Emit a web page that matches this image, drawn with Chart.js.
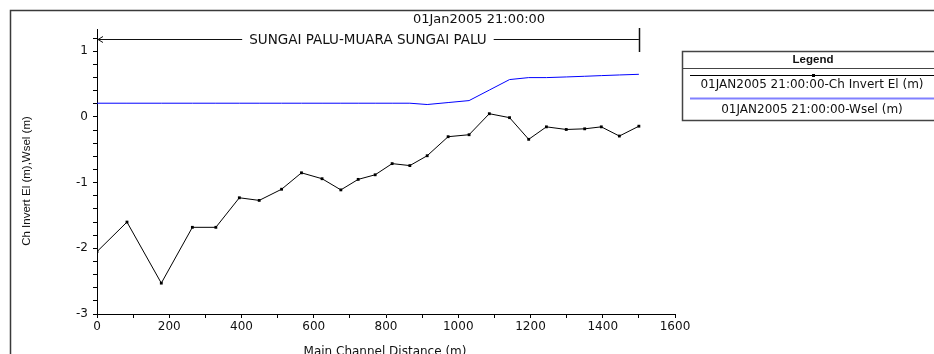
<!DOCTYPE html>
<html>
<head>
<meta charset="utf-8">
<script src="https://cdn.jsdelivr.net/npm/chart.js@4/dist/chart.umd.min.js"></script>
<style>
  body { margin: 0; background: #fff; }
  canvas { display: block; }
</style>
</head>
<body>
<canvas id="profileChart" width="934" height="354"></canvas>
<script>
// Données du profil (distance le long du chenal principal, m)
const stations = [0, 83, 178, 264, 329, 394, 449, 511, 566, 623, 675, 723, 770, 817, 866, 914, 972, 1030, 1086, 1142, 1195, 1244, 1299, 1350, 1396, 1446, 1500];
const invertEl = [-2.05, -1.60, -2.53, -1.68, -1.68, -1.23, -1.27, -1.10, -0.85, -0.94, -1.11, -0.95, -0.88, -0.71, -0.74, -0.59, -0.30, -0.27, 0.05, -0.01, -0.34, -0.15, -0.19, -0.18, -0.15, -0.29, -0.14];
const wsel = [0.21, 0.21, 0.21, 0.21, 0.21, 0.21, 0.21, 0.21, 0.21, 0.21, 0.21, 0.21, 0.21, 0.21, 0.21, 0.19, 0.22, 0.25, 0.41, 0.57, 0.60, 0.60, 0.61, 0.62, 0.63, 0.64, 0.65];

// Graduations
const xTickValues = [0, 100, 200, 300, 400, 500, 600, 700, 800, 900, 1000, 1100, 1200, 1300, 1400, 1500, 1600];
const xTickLabels = [0, 200, 400, 600, 800, 1000, 1200, 1400, 1600];
const yTickLabels = [-3, -2, -1, 0, 1];

const seriesLabels = ['01JAN2005 21:00:00-Ch Invert El (m)', '01JAN2005 21:00:00-Wsel (m)'];
const chartTitle = '01Jan2005 21:00:00';
const reachLabel = 'SUNGAI PALU-MUARA SUNGAI PALU';
const reachStart = 0;
const reachEnd = 1500;

const FONT = '"DejaVu Sans", sans-serif';

// graduations mineures tous les 0.2 m
const yTickValues = [];
for (let i = -15; i <= 6; i++) yTickValues.push(i / 5);

function toPoints(xs, ys) {
    return xs.map((x, i) => ({ x: x, y: ys[i] }));
}

// Dessin du cadre, des titres, de l'annotation et de la légende
const decorPlugin = {
    id: 'decor',
    afterDraw(chart) {
        const ctx = chart.ctx;
        const xs = chart.scales.x;
        const area = chart.chartArea;
        ctx.save();

        // cadre extérieur
        ctx.strokeStyle = '#3a3a3a';
        ctx.lineWidth = 1.5;
        ctx.beginPath();
        ctx.moveTo(10.5, 360);
        ctx.lineTo(10.5, 10.5);
        ctx.lineTo(940, 10.5);
        ctx.stroke();

        // titre
        ctx.fillStyle = '#111';
        ctx.font = '13px ' + FONT;
        ctx.textAlign = 'center';
        ctx.textBaseline = 'middle';
        ctx.fillText(chartTitle, 479, 20);

        // annotation du bief
        const x0 = xs.getPixelForValue(reachStart);
        const x1 = xs.getPixelForValue(reachEnd);
        const yA = 39.5;
        ctx.font = '13.5px ' + FONT;
        const tw = ctx.measureText(reachLabel).width;
        const mid = (x0 + x1) / 2;
        ctx.fillText(reachLabel, mid, yA + 1);
        ctx.strokeStyle = '#111';
        ctx.lineWidth = 1;
        ctx.beginPath();
        ctx.moveTo(x0 + 1, yA);
        ctx.lineTo(mid - tw / 2 - 7, yA);
        ctx.moveTo(mid + tw / 2 + 7, yA);
        ctx.lineTo(x1, yA);
        ctx.moveTo(x0 + 6, yA - 3);
        ctx.lineTo(x0 + 1, yA);
        ctx.lineTo(x0 + 6, yA + 3);
        ctx.stroke();
        ctx.lineWidth = 1.5;
        ctx.beginPath();
        ctx.moveTo(Math.round(x1) + 0.5, 28);
        ctx.lineTo(Math.round(x1) + 0.5, 52);
        ctx.stroke();

        // titres des axes
        ctx.font = '12px ' + FONT;
        ctx.textBaseline = 'alphabetic';
        ctx.fillText('Main Channel Distance (m)', (area.left + area.right) / 2 - 1, 355);
        ctx.save();
        ctx.translate(27, 181);
        ctx.rotate(-Math.PI / 2);
        ctx.font = '11.5px "Liberation Sans", Arial, sans-serif';
        ctx.textBaseline = 'middle';
        ctx.fillText('Ch Invert El (m),Wsel (m)', 0, 0);
        ctx.restore();

        // légende (le bord droit sort de l'image)
        const lx = 682.5, ly = 51.5, lr = 952, lb = 120.5, cx = 812;
        ctx.strokeStyle = '#444';
        ctx.lineWidth = 1.5;
        ctx.strokeRect(lx, ly, lr - lx, lb - ly);
        ctx.lineWidth = 1;
        ctx.beginPath();
        ctx.moveTo(lx, 68.5);
        ctx.lineTo(lr, 68.5);
        ctx.stroke();
        ctx.font = 'bold 11.5px "Liberation Sans", Arial, sans-serif';
        ctx.textBaseline = 'middle';
        ctx.fillStyle = '#111';
        ctx.fillText('Legend', cx + 1, 59.5);

        const rows = [
            { lineY: 75, textY: 85 },
            { lineY: 98, textY: 110 }
        ];
        chart.data.datasets.forEach((ds, i) => {
            const r = rows[i];
            ctx.strokeStyle = i === 0 ? ds.borderColor : '#8080ff';
            ctx.lineWidth = i === 0 ? 1 : 2;
            ctx.beginPath();
            ctx.moveTo(690, r.lineY + 0.5);
            ctx.lineTo(lr, r.lineY + 0.5);
            ctx.stroke();
            if (ds.pointRadius > 0) {
                ctx.fillStyle = ds.borderColor;
                ctx.fillRect(cx, r.lineY - 1, 3, 3);
            }
            ctx.fillStyle = '#111';
            ctx.font = '12px ' + FONT;
            ctx.fillText(ds.label, cx, r.textY);
        });

        ctx.restore();
    }
};

document.addEventListener('DOMContentLoaded', () => {
    new Chart(document.getElementById('profileChart'), {
        type: 'line',
        data: {
            datasets: [{
                label: seriesLabels[0],
                data: toPoints(stations, invertEl),
                borderColor: '#000000',
                backgroundColor: '#000000',
                borderWidth: 1,
                pointStyle: 'rect',
                pointRadius: 2,
                pointBorderWidth: 0,
                pointBackgroundColor: '#000000',
                tension: 0
            }, {
                label: seriesLabels[1],
                data: toPoints(stations, wsel),
                borderColor: '#0000ff',
                backgroundColor: '#0000ff',
                borderWidth: 1,
                pointRadius: 0,
                tension: 0
            }]
        },
        options: {
            responsive: false,
            animation: false,
            devicePixelRatio: 1,
            layout: {
                padding: { left: 0, top: 29, right: 259, bottom: 0 }
            },
            plugins: {
                legend: { display: false },
                tooltip: { enabled: false },
                title: { display: false }
            },
            scales: {
                x: {
                    type: 'linear',
                    min: 0,
                    max: 1600,
                    afterBuildTicks: (scale) => {
                        scale.ticks = xTickValues.map(v => ({ value: v }));
                    },
                    afterFit: (scale) => {
                        scale.height = 40;
                    },
                    grid: {
                        drawOnChartArea: false,
                        drawTicks: true,
                        tickLength: 4,
                        color: '#000'
                    },
                    border: { display: true, color: '#000', width: 1 },
                    ticks: {
                        autoSkip: false,
                        maxRotation: 0,
                        padding: 2,
                        color: '#111',
                        font: { family: FONT, size: 12 },
                        callback: (v) => xTickLabels.includes(v) ? String(v) : ''
                    }
                },
                y: {
                    min: -3,
                    max: 1.34,
                    afterBuildTicks: (scale) => {
                        scale.ticks = yTickValues.map(v => ({ value: v }));
                    },
                    afterFit: (scale) => {
                        scale.width = 97;
                    },
                    grid: {
                        drawOnChartArea: false,
                        drawTicks: true,
                        tickLength: 4,
                        color: '#000'
                    },
                    border: { display: true, color: '#000', width: 1 },
                    ticks: {
                        autoSkip: false,
                        padding: 5,
                        color: '#111',
                        font: { family: FONT, size: 12 },
                        callback: (v) => yTickLabels.includes(v) ? String(v) : ''
                    }
                }
            }
        },
        plugins: [decorPlugin]
    });
});
</script>
</body>
</html>
